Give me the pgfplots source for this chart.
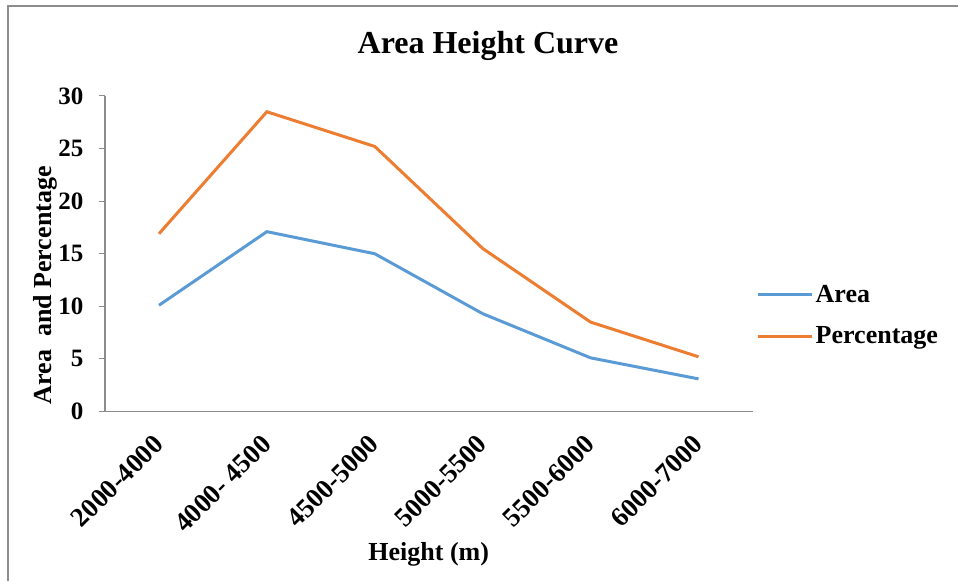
\documentclass[border=0pt]{standalone}
\usepackage{fontspec}
\setmainfont{Liberation Serif}
\usepackage{pgfplots}
\pgfplotsset{compat=1.18}
\definecolor{areablue}{HTML}{5B9BD5}
\definecolor{pctorange}{HTML}{ED7D31}
\definecolor{axisgray}{HTML}{8C8C8C}
\begin{document}
\begin{tikzpicture}
\useasboundingbox (0pt,0pt) rectangle (958pt,581pt);
% chart frame (only left and top edges are visible)
\draw[axisgray, line width=1.5pt] (8pt,0pt) -- (8pt,575pt) -- (958pt,575pt);
\node[font=\fontsize{32}{32}\selectfont\bfseries] at (488pt,535pt) {Area Height Curve};
\begin{axis}[
    at={(105pt,169.5pt)}, anchor=south west,
    width=647.5pt, height=315.5pt, scale only axis,
    xmin=-0.5, xmax=5.5, ymin=0, ymax=30,
    xtick={0,...,5}, ytick={0,5,...,30},
    xticklabels={2000-4000, 4000- 4500, 4500-5000, 5000-5500, 5500-6000, 6000-7000},
    axis x line*=bottom, axis y line*=left,
    axis line style={axisgray, line width=1.3pt},
    x tick style={draw=none},
    y tick style={axisgray, line width=1pt},
    tick align=outside, major tick length=6pt,
    /pgf/number format/assume math mode=true,
    ticklabel style={font=\fontsize{25}{25}\selectfont\bfseries},
    yticklabel style={xshift=-12pt},
    xticklabel style={xshift=-7pt, yshift=-11pt, rotate=45, anchor=north east, font=\fontsize{27}{27}\selectfont\bfseries},
    xlabel={Height (m)},
    xlabel style={at={(axis description cs:0.5,-0.453)}, anchor=center, font=\fontsize{26}{26}\selectfont\bfseries},
    ylabel={Area~ and Percentage},
    ylabel style={at={(axis description cs:-0.092,0.40)}, anchor=center, font=\fontsize{26}{26}\selectfont\bfseries},
    legend style={draw=none, fill=none, at={(axis description cs:1,0.305)}, anchor=west, xshift=4pt,
        font=\fontsize{26}{26}\selectfont\bfseries, row sep=19pt, inner sep=0pt, nodes={inner sep=2pt}},
    legend cell align=left,
    legend image code/.code={\draw[#1, line width=3pt] (0pt,0pt) -- (54pt,0pt);},
]
\addplot[areablue, line width=3pt] coordinates {(0,10.1) (1,17.1) (2,15.0) (3,9.3) (4,5.1) (5,3.1)};
\addplot[pctorange, line width=3pt] coordinates {(0,16.9) (1,28.5) (2,25.2) (3,15.5) (4,8.5) (5,5.2)};
\legend{Area, Percentage}
\end{axis}
\end{tikzpicture}
\end{document}
